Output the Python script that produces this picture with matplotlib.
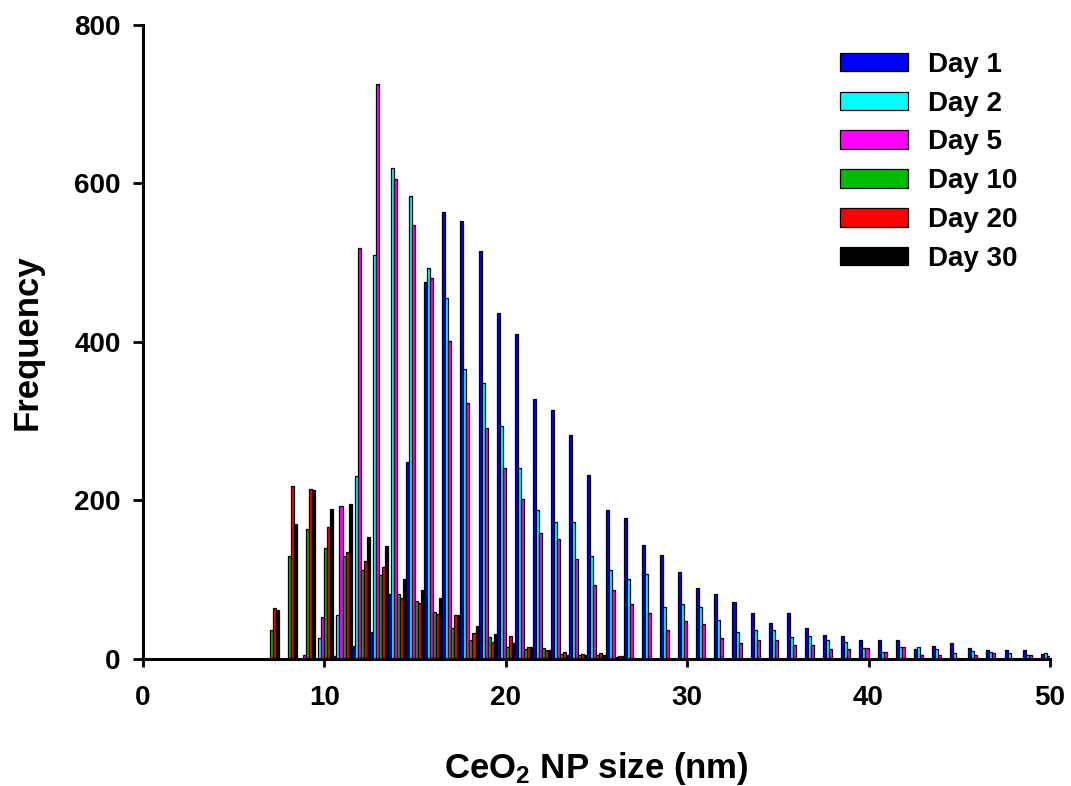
import numpy as np
import matplotlib
matplotlib.use('Agg')
import matplotlib.pyplot as plt

plt.rcParams['font.family'] = ['Liberation Sans', 'DejaVu Sans']
plt.rcParams['font.weight'] = 'bold'
plt.rcParams['mathtext.fontset'] = 'custom'
plt.rcParams['mathtext.rm'] = 'Liberation Sans:bold'
plt.rcParams['mathtext.bf'] = 'Liberation Sans:bold'
plt.rcParams['mathtext.it'] = 'Liberation Sans:bold'

# size bins (nm), 7..50
bins = np.arange(7, 51)

day1 = [0, 0, 0, 0, 3, 16, 33, 81, 248, 475, 564, 552, 515, 436, 410, 328, 314, 282,
        232, 187, 178, 143, 131, 109, 89, 82, 71, 58, 45, 57, 38, 30, 28, 24, 23, 24,
        12, 16, 19, 13, 11, 11, 11, 6]
day2 = [0, 0, 0, 26, 55, 230, 510, 619, 584, 493, 455, 366, 348, 294, 240, 188, 172, 173,
        129, 112, 100, 107, 65, 69, 65, 48, 33, 36, 36, 27, 28, 23, 21, 13, 8, 14,
        15, 12, 7, 10, 8, 7, 5, 7]
day5 = [0, 0, 4, 52, 193, 518, 725, 605, 547, 481, 401, 323, 291, 240, 201, 159, 151, 126,
        93, 86, 69, 57, 36, 47, 44, 26, 20, 24, 24, 17, 17, 12, 12, 13, 8, 14,
        4, 4, 1, 4, 7, 1, 4, 3]
day10 = [36, 130, 164, 140, 130, 112, 106, 82, 72, 59, 38, 24, 27, 14, 12, 13, 6, 4,
         4, 2] + [0] * 24
day20 = [64, 218, 214, 166, 135, 123, 116, 77, 70, 56, 55, 32, 21, 29, 14, 11, 8, 6,
         7, 3] + [0] * 24
day30 = [61, 170, 213, 189, 195, 154, 142, 100, 86, 76, 55, 41, 31, 20, 15, 11, 5, 4,
         4, 3] + [0] * 24

labels = ['Day 1', 'Day 2', 'Day 5', 'Day 10', 'Day 20', 'Day 30']
colors = ['#0000ff', '#00ffff', '#ff00ff', '#00bb00', '#ff0000', '#000000']
series = [day1, day2, day5, day10, day20, day30]

fig = plt.figure(figsize=(10.71, 7.86), dpi=100)
ax = fig.add_axes([0.1335, 0.1622, 0.8468, 0.8060])

w = 1.0 / 6
for i, (vals, lab, col) in enumerate(zip(series, labels, colors)):
    vals = np.array(vals, dtype=float)
    x = bins + (i - 2.5) * w
    m = vals > 0
    ax.bar(x[m], vals[m], width=w, color=col, edgecolor='black', linewidth=0.9,
           label=lab)

ax.set_xlim(0, 50)
ax.set_ylim(0, 800)
ax.set_xticks(range(0, 51, 10))
ax.set_yticks(range(0, 801, 200))

for s in ['top', 'right']:
    ax.spines[s].set_visible(False)
for s in ['left', 'bottom']:
    ax.spines[s].set_linewidth(2.2)

ax.tick_params(axis='x', direction='out', length=6, width=2, pad=13, labelsize=20)
ax.tick_params(axis='y', direction='out', length=7, width=2, pad=9, labelsize=20)
for t in ax.get_xticklabels() + ax.get_yticklabels():
    t.set_fontweight('bold')

ax.set_xlabel('CeO$_2$ NP size (nm)', fontsize=25, fontweight='bold', labelpad=28)
ax.set_ylabel('Frequency', fontsize=25, fontweight='bold', labelpad=22)

leg = ax.legend(loc='upper right', frameon=False, fontsize=20, handlelength=2.45,
                handleheight=0.65, handletextpad=0.72, labelspacing=0.46,
                borderaxespad=0.0, bbox_to_anchor=(0.977, 0.975))
for t in leg.get_texts():
    t.set_fontweight('bold')

fig.savefig('out.png', dpi=100)
